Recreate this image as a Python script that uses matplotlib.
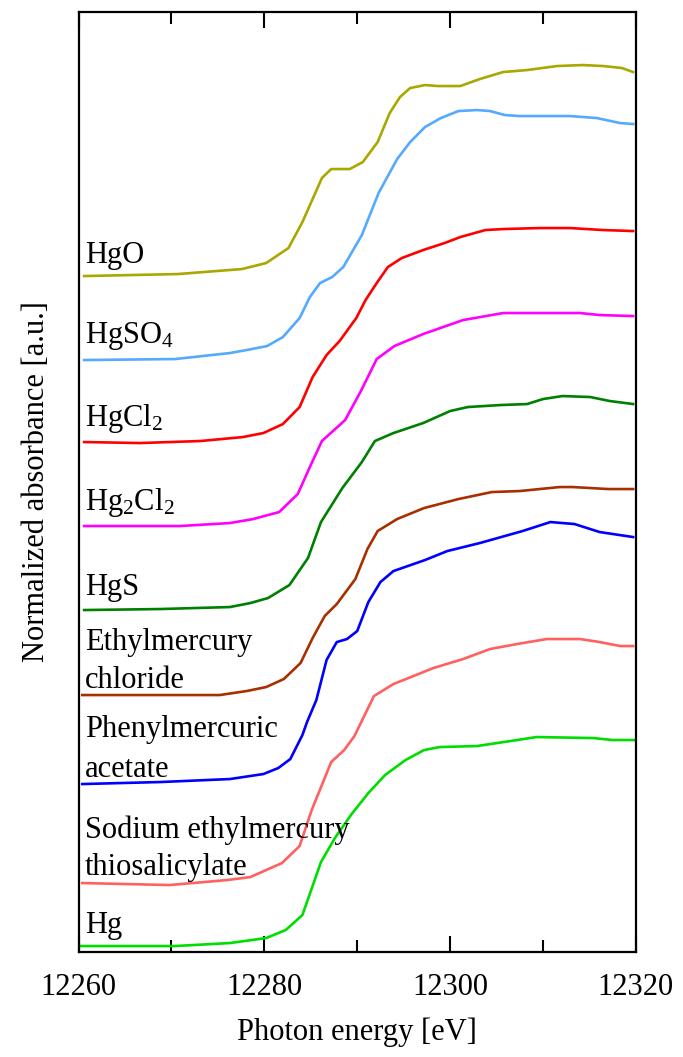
#!/usr/bin/env python3
"""Stacked Hg L3-edge XANES spectra of mercury reference compounds."""

import matplotlib
matplotlib.use("Agg")
import matplotlib.pyplot as plt
from matplotlib.ticker import MultipleLocator, NullLocator

# Stacked spectra (vertical offsets already applied), energy in eV
HGO_E = [12260.6, 12270.7, 12277.6, 12280.2, 12282.6, 12284.1, 12286.2, 12287.2, 12289.2,
         12290.6, 12292.2, 12293.5, 12294.6, 12295.7, 12297.3, 12298.7, 12301.1, 12303.2,
         12305.7, 12308.3, 12311.5, 12314.3, 12316.5, 12318.5, 12319.7]
HGO_MU = [6.76, 6.78, 6.83, 6.89, 7.04, 7.30, 7.74, 7.83, 7.83, 7.90, 8.10, 8.39, 8.55,
          8.64, 8.67, 8.66, 8.66, 8.73, 8.80, 8.82, 8.86, 8.87, 8.86, 8.84, 8.80]

HGSO4_E = [12260.6, 12270.4, 12276.3, 12278.1, 12280.3, 12282.0, 12283.8, 12284.9, 12286.0,
           12287.3, 12288.5, 12290.5, 12292.3, 12294.3, 12295.7, 12297.3, 12299.0, 12300.9,
           12302.9, 12304.3, 12305.9, 12307.5, 12312.9, 12315.8, 12318.3, 12319.7]
HGSO4_MU = [5.92, 5.93, 5.99, 6.02, 6.06, 6.15, 6.34, 6.55, 6.69, 6.75, 6.85, 7.17, 7.59,
            7.93, 8.10, 8.25, 8.34, 8.41, 8.42, 8.41, 8.37, 8.36, 8.36, 8.34, 8.29, 8.28]

HGCL2_E = [12260.6, 12266.6, 12273.1, 12277.7, 12279.9, 12282.0, 12283.8, 12285.2, 12286.7,
           12288.1, 12289.9, 12290.9, 12292.1, 12293.3, 12294.8, 12297.1, 12299.4, 12301.1,
           12303.8, 12305.7, 12309.7, 12312.9, 12316.5, 12319.7]
HGCL2_MU = [5.10, 5.09, 5.11, 5.15, 5.19, 5.28, 5.45, 5.75, 5.97, 6.11, 6.34, 6.52, 6.69,
            6.85, 6.94, 7.02, 7.09, 7.15, 7.22, 7.23, 7.24, 7.24, 7.22, 7.21]

HG2CL2_E = [12260.6, 12270.9, 12276.3, 12278.8, 12281.6, 12283.6, 12284.9, 12286.2, 12288.7,
            12290.4, 12292.1, 12294.0, 12297.1, 12301.4, 12305.7, 12314.0, 12316.1, 12319.7]
HG2CL2_MU = [4.26, 4.26, 4.29, 4.33, 4.40, 4.58, 4.85, 5.11, 5.32, 5.61, 5.93, 6.06, 6.18,
             6.32, 6.39, 6.39, 6.37, 6.36]

HGS_E = [12260.6, 12268.8, 12276.3, 12278.5, 12280.4, 12282.7, 12284.7, 12286.1, 12288.4,
         12290.5, 12291.9, 12293.9, 12297.1, 12300.0, 12301.9, 12305.4, 12308.3, 12310.0,
         12312.1, 12315.1, 12317.2, 12319.7]
HGS_MU = [3.42, 3.43, 3.45, 3.49, 3.54, 3.67, 3.94, 4.30, 4.64, 4.90, 5.11, 5.19, 5.29,
          5.41, 5.45, 5.47, 5.48, 5.53, 5.56, 5.55, 5.51, 5.48]

ETHGCL_E = [12260.4, 12275.2, 12278.1, 12280.2, 12282.1, 12283.9, 12285.2, 12286.5, 12287.8,
            12289.8, 12291.1, 12292.2, 12294.3, 12297.2, 12300.9, 12304.5, 12307.5, 12311.8,
            12313.2, 12317.0, 12319.7]
ETHGCL_MU = [2.57, 2.57, 2.61, 2.65, 2.73, 2.89, 3.14, 3.36, 3.48, 3.73, 4.03, 4.21, 4.33,
             4.44, 4.53, 4.60, 4.61, 4.65, 4.65, 4.63, 4.63]

PHHGAC_E = [12260.4, 12268.8, 12276.3, 12279.9, 12281.5, 12282.8, 12284.1, 12284.6, 12285.6,
            12286.7, 12287.8, 12288.9, 12290.0, 12291.2, 12292.5, 12293.9, 12297.3, 12299.7,
            12303.2, 12307.8, 12310.8, 12313.4, 12316.1, 12319.7]
PHHGAC_MU = [1.68, 1.70, 1.73, 1.78, 1.84, 1.93, 2.17, 2.30, 2.52, 2.92, 3.10, 3.13, 3.21,
             3.50, 3.70, 3.81, 3.92, 4.01, 4.09, 4.21, 4.30, 4.28, 4.20, 4.15]

THIMEROSAL_E = [12260.4, 12269.8, 12276.0, 12278.5, 12281.9, 12283.8, 12285.1, 12287.2,
                12288.6, 12289.7, 12291.8, 12293.9, 12298.2, 12301.4, 12304.3, 12307.2,
                12310.4, 12314.0, 12316.1, 12318.3, 12319.7]
THIMEROSAL_MU = [0.69, 0.67, 0.72, 0.75, 0.89, 1.06, 1.42, 1.90, 2.02, 2.16, 2.56, 2.68,
                 2.84, 2.93, 3.03, 3.08, 3.13, 3.13, 3.10, 3.06, 3.06]

HG_E = [12260.3, 12270.4, 12276.3, 12280.2, 12282.3, 12284.1, 12286.1, 12287.6, 12289.4,
        12291.2, 12293.0, 12295.2, 12297.2, 12298.9, 12302.9, 12307.2, 12309.3, 12315.4,
        12317.5, 12319.9]
HG_MU = [0.06, 0.06, 0.09, 0.14, 0.22, 0.37, 0.90, 1.14, 1.38, 1.59, 1.77, 1.92, 2.02,
         2.05, 2.06, 2.12, 2.15, 2.14, 2.12, 2.12]

SPECTRA = [
    (HGO_E, HGO_MU, "#A8A800"),
    (HGSO4_E, HGSO4_MU, "#55AAFF"),
    (HGCL2_E, HGCL2_MU, "#FF0000"),
    (HG2CL2_E, HG2CL2_MU, "#FF00FF"),
    (HGS_E, HGS_MU, "#008000"),
    (ETHGCL_E, ETHGCL_MU, "#A83000"),
    (PHHGAC_E, PHHGAC_MU, "#0000FF"),
    (THIMEROSAL_E, THIMEROSAL_MU, "#FF6060"),
    (HG_E, HG_MU, "#00DD00"),
]

# Sample labels: one entry per text line, (text, baseline height)
LABELS = [
    ("HgO", 6.89),
    ("HgSO$_4$", 6.09),
    ("HgCl$_2$", 5.26),
    ("Hg$_2$Cl$_2$", 4.42),
    ("HgS", 3.57),
    ("Ethylmercury", 3.02),
    ("chloride", 2.64),
    ("Phenylmercuric", 2.15),
    ("acetate", 1.75),
    ("Sodium ethylmercury", 1.14),
    ("thiosalicylate", 0.77),
    ("Hg", 0.19),
]


def main() -> None:
    plt.rcParams.update(
        {
            "font.family": "Liberation Serif",
            "font.size": 22,
            "mathtext.fontset": "custom",
            "mathtext.rm": "Liberation Serif",
            "mathtext.it": "Liberation Serif:italic",
            "mathtext.bf": "Liberation Serif:bold",
        }
    )

    fig = plt.figure(figsize=(6.83, 10.57), dpi=100)
    ax = fig.add_axes([0.115, 0.0993, 0.816, 0.8893])

    for energy, mu, color in SPECTRA:
        ax.plot(energy, mu, color=color, linewidth=1.9, solid_joinstyle="round")

    for text, y in LABELS:
        ax.text(12260.7, y, text, ha="left", va="baseline", fontsize=22)

    ax.set_xlim(12260, 12320)
    ax.set_ylim(0, 9.4)
    ax.xaxis.set_major_locator(MultipleLocator(20))
    ax.xaxis.set_minor_locator(MultipleLocator(10))
    ax.yaxis.set_major_locator(NullLocator())
    ax.yaxis.set_minor_locator(NullLocator())
    ax.tick_params(axis="x", which="both", direction="in", top=True, width=1.5, pad=15)
    ax.tick_params(axis="x", which="major", length=11.5)
    ax.tick_params(axis="x", which="minor", length=8.5)
    for spine in ax.spines.values():
        spine.set_linewidth(1.6)

    ax.set_xlabel("Photon energy [eV]", labelpad=11)
    ax.set_ylabel("Normalized absorbance [a.u.]", labelpad=20)

    fig.savefig("out.png", dpi=100)


if __name__ == "__main__":
    main()
